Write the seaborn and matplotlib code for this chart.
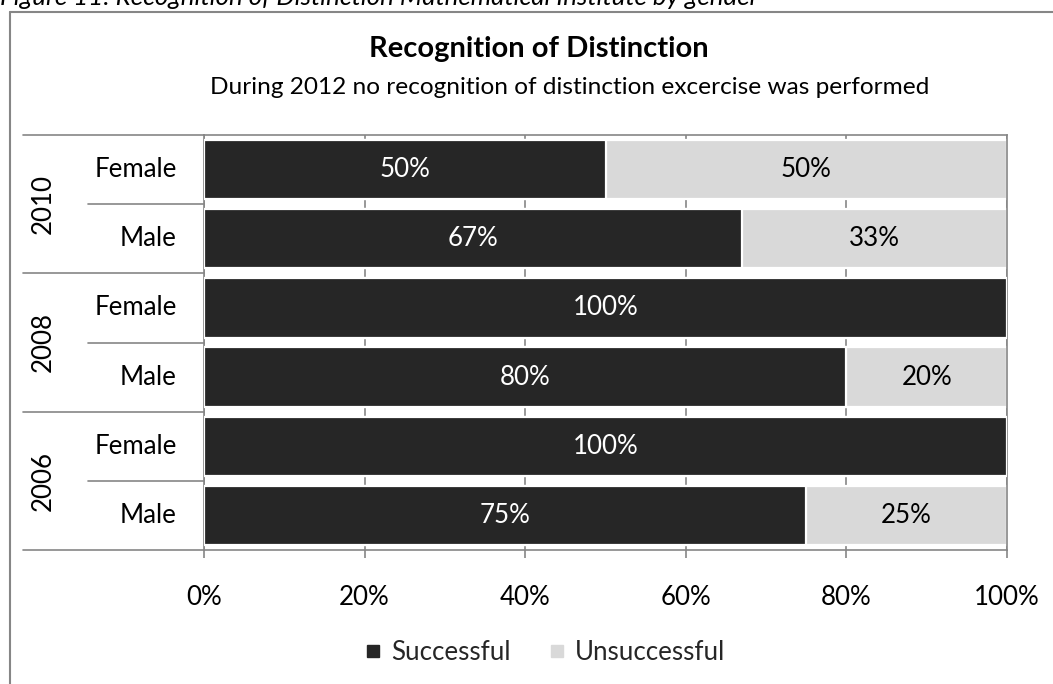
import matplotlib
matplotlib.use("Agg")
import matplotlib.pyplot as plt
import matplotlib.transforms as mtransforms
from matplotlib.lines import Line2D
import pandas as pd
import seaborn as sns

# Data
years = ["2010", "2010", "2008", "2008", "2006", "2006"]
genders = ["Female", "Male", "Female", "Male", "Female", "Male"]
successful = [50, 67, 100, 80, 100, 75]
unsuccessful = [50, 33, 0, 20, 0, 25]
x_ticks = [0, 20, 40, 60, 80, 100]
x_tick_labels = ["0%", "20%", "40%", "60%", "80%", "100%"]

title = "Recognition of Distinction"
subtitle = "During 2012 no recognition of distinction excercise was performed"
caption = "Figure 11: Recognition of Distinction Mathematical Institute by gender"

DARK = "#262626"
LIGHT = "#d9d9d9"
GRID = "#868686"

sns.set_theme(style="white")
plt.rcParams["font.family"] = ["Lato", "DejaVu Sans"]
FS = 18.6

df = pd.DataFrame({
    "row": [f"{y} {g}" for y, g in zip(years, genders)],
    "year": years,
    "gender": genders,
    "successful": successful,
    "unsuccessful": unsuccessful,
})
df["total"] = df["successful"] + df["unsuccessful"]

W, H = 1053, 684
fig = plt.figure(figsize=(W / 100, H / 100), dpi=100)
ax = fig.add_axes([204 / W, 1 - 550 / H, (1007 - 204) / W, (550 - 135) / H])

# Stacked bars: full-length light bar underneath, dark "successful" part on top
sns.barplot(data=df, y="row", x="total", color=LIGHT, saturation=1, width=0.86,
            edgecolor="white", linewidth=1.6, orient="h", ax=ax, zorder=2)
sns.barplot(data=df, y="row", x="successful", color=DARK, saturation=1, width=0.86,
            edgecolor="white", linewidth=1.6, orient="h", ax=ax, zorder=3)

ax.set_xlim(0, 100)
ax.set_ylim(5.5, -0.5)
ax.set_xticks(x_ticks)
ax.set_xticklabels(x_tick_labels, fontsize=FS, color="black")
ax.set_yticks([])
ax.set_xlabel("")
ax.set_ylabel("")
ax.xaxis.grid(True, color=GRID, linewidth=1.2)
ax.set_axisbelow(True)
ax.tick_params(axis="x", direction="out", length=6, width=1.2, color=GRID,
               bottom=True, pad=19)
for sp in ax.spines.values():
    sp.set_color(GRID)
    sp.set_linewidth(1.2)

# Value labels inside segments
for i, (s, u) in enumerate(zip(successful, unsuccessful)):
    if s > 0:
        ax.text(s / 2, i, f"{s}%", ha="center", va="center", color="white",
                fontsize=FS, zorder=5)
    if u > 0:
        ax.text(s + u / 2, i, f"{u}%", ha="center", va="center", color="black",
                fontsize=FS, zorder=5)

# Two-level category axis on the left
blend = mtransforms.blended_transform_factory(fig.transFigure, ax.transData)
x_full, x_half, x_axis = 23 / W, 88 / W, 204 / W
for yb in [-0.5, 1.5, 3.5, 5.5]:
    fig.add_artist(Line2D([x_full, x_axis], [yb, yb], transform=blend,
                          color=GRID, linewidth=1.2))
for yb in [0.5, 2.5, 4.5]:
    fig.add_artist(Line2D([x_half, x_axis], [yb, yb], transform=blend,
                          color=GRID, linewidth=1.2))
for i, g in enumerate(genders):
    fig.text(177 / W, i, g, transform=blend, ha="right", va="center",
             fontsize=FS, color="black")
for k in range(0, len(years), 2):
    fig.text(43 / W, k + 0.5, years[k], transform=blend, ha="center",
             va="center", rotation=90, fontsize=FS, color="black")

# Titles
fig.text(539 / W, 1 - 49 / H, title, ha="center", va="center",
         fontsize=21, fontweight="bold", color="black")
fig.text(570 / W, 1 - 88 / H, subtitle, ha="center", va="center",
         fontsize=17.6, color="black")
fig.text(0, 1 - 5 / H, caption, ha="left", va="baseline",
         fontsize=FS, fontstyle="italic", color="black")

# Chart frame
fig.add_artist(Line2D([10 / W, 10 / W], [0, 1 - 12 / H], color=GRID, linewidth=1.5))
fig.add_artist(Line2D([10 / W, 1], [1 - 12 / H, 1 - 12 / H], color=GRID, linewidth=1.5))

# Legend
handles = [
    Line2D([], [], marker="s", linestyle="none", markersize=8,
           markerfacecolor=DARK, markeredgecolor=DARK),
    Line2D([], [], marker="s", linestyle="none", markersize=8,
           markerfacecolor=LIGHT, markeredgecolor=LIGHT),
]
fig.legend(handles, ["Successful", "Unsuccessful"], loc="center",
           bbox_to_anchor=(545 / W, 1 - 653 / H), ncol=2, frameon=False,
           fontsize=FS, handlelength=0.6, handletextpad=0.4, columnspacing=1.5)

fig.savefig("out.png", dpi=100)
